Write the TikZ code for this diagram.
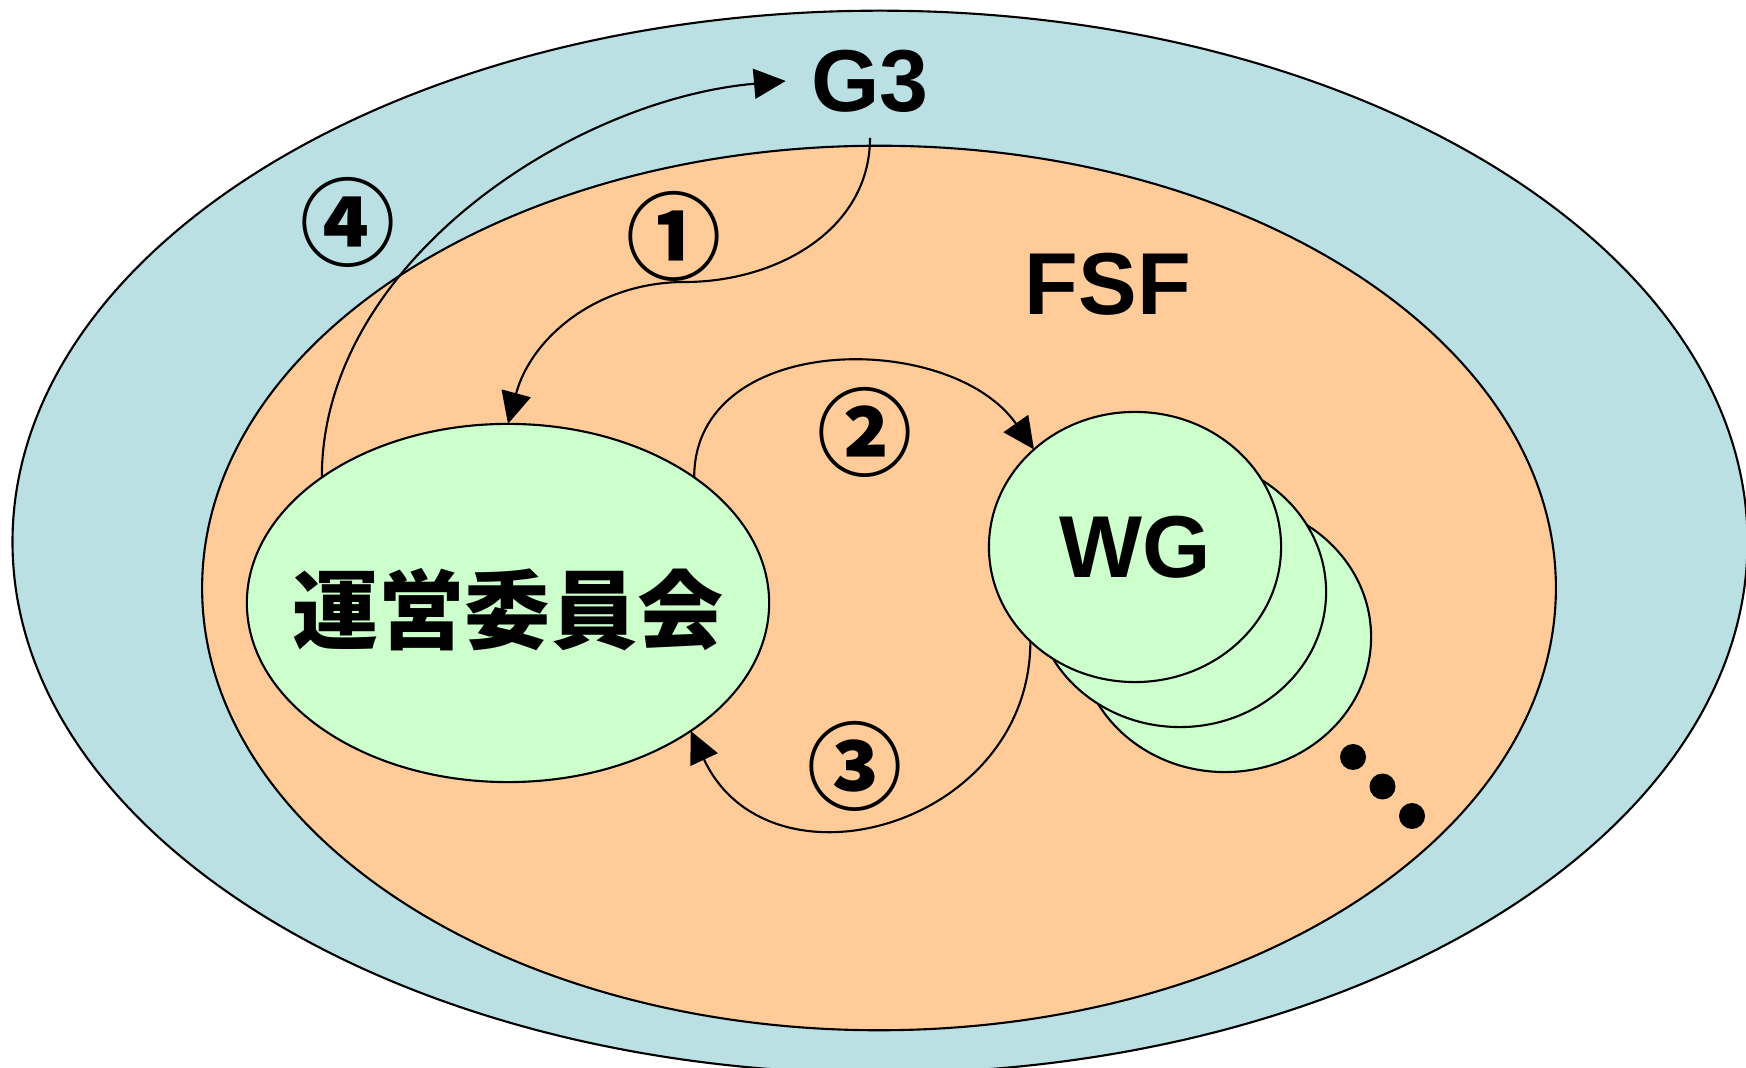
\documentclass[tikz,border=0pt]{standalone}
\usepackage{fontspec}
\setmainfont{Liberation Sans}
\newfontfamily\jpfont{Noto Sans CJK JP}
\usetikzlibrary{arrows.meta,shapes.geometric,positioning}
\definecolor{outerblue}{RGB}{186,224,227}
\definecolor{fsforange}{RGB}{255,204,153}
\definecolor{memgreen}{RGB}{204,255,204}
\tikzset{area/.style={draw,ellipse,inner sep=0pt,outer sep=0pt,line width=0.6pt},
	big label/.style={font=\bfseries\fontsize{25}{30}\selectfont,inner sep=0pt},
	step num/.style={font=\jpfont\bfseries\fontsize{27}{30}\selectfont,inner sep=0pt},
	wg circle/.style={area,fill=memgreen,minimum width=2.92cm,minimum height=2.7cm},
	flow/.style={-{Triangle[length=9pt,width=8.5pt]},line width=0.6pt}}

\begin{document}
\begin{tikzpicture}[x=0.01cm,y=-0.01cm]
	\useasboundingbox (0,0) rectangle (1746,1068);
	
	\node[area,fill=outerblue,minimum width=17.34cm,minimum height=10.62cm] (g3area) at (880,542) {};
	\node[area,fill=fsforange,minimum width=13.53cm,minimum height=8.84cm] (fsf) at (879,588) {};
	
	\node[area,fill=memgreen,minimum width=5.22cm,minimum height=3.58cm,
	label={[font=\jpfont\bfseries\fontsize{24.5}{28}\selectfont,yshift=-0.07cm]center:運営委員会}] (iinkai) at (508,603) {};
	
	\node[wg circle] (wg3) at (1225,637) {};
	\node[wg circle] (wg2) at (1180,592) {};
	\node[wg circle,big label] (wg) at (1135,547) {WG};
	
	\foreach \i in {0,1,2}
	\fill ({1353+29.5*\i},{757+29.5*\i}) circle (13);
	
	\node[big label,inner sep=0.25cm] (g3) at (870,81) {G3};
	\node[big label] (fsflabel) at (1108,284) {FSF};
	
	\node[step num] (n1) at (674,236) {①};
	\node[step num] (n2) at (865,432) {②};
	\node[step num] (n3) at (855,766) {③};
	\node[step num] (n4) at (348,222) {④};
	
	\coordinate (bend1) at (685,282);
	\draw[flow] (g3.south) to[out=-90,in=0] (bend1) to[out=180,in=75] (iinkai.north);
	
	\path[flow] 
	(iinkai.34) edge[out=90,in=125,looseness=1.1] (wg.136)
	(wg.222) edge[out=-90,in=-65,looseness=1.35] (iinkai.-35)
	(iinkai.146) edge[out=90,in=185,looseness=0.9] (g3.west)
	;
\end{tikzpicture}
\end{document}
